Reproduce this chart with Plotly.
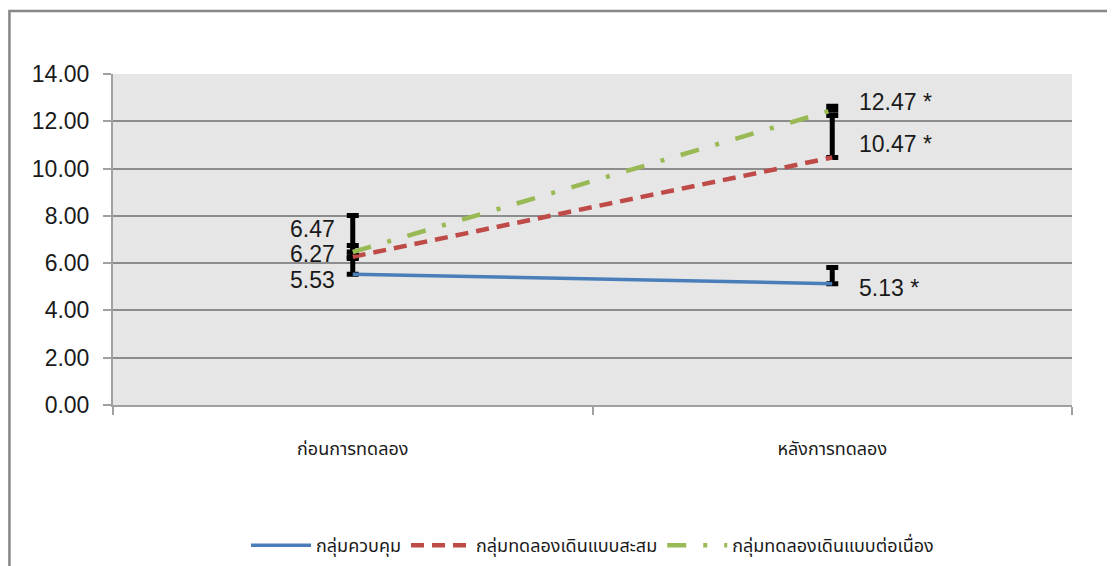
import plotly.graph_objects as go

categories = ["ก่อนการทดลอง", "หลังการทดลอง"]
series_names = ["กลุ่มควบคุม", "กลุ่มทดลองเดินแบบสะสม", "กลุ่มทดลองเดินแบบต่อเนื่อง"]
control = [5.53, 5.13]
accumulated = [6.27, 10.47]
continuous = [6.47, 12.47]
control_err = [0.67, 0.69]
accumulated_err = [0.48, 1.77]
continuous_err = [1.55, 0.17]
control_labels = ["5.53", "5.13 *"]
accumulated_labels = ["6.27", "10.47 *"]
continuous_labels = ["6.47", "12.47 *"]
y_ticks = [0, 2, 4, 6, 8, 10, 12, 14]

series = [
    (series_names[0], control, control_err, control_labels, "#4a7ebb", "solid", 3.5, [-6, -4]),
    (series_names[1], accumulated, accumulated_err, accumulated_labels, "#be4b48", "13px,8px", 4.5, [3, 13]),
    (series_names[2], continuous, continuous_err, continuous_labels, "#98b954", "19px,17px,4px,17px", 4.5, [23, 8]),
]

THAI = "Tahoma, Noto Sans Thai, Loma, DejaVu Sans, sans-serif"
fig = go.Figure()
annotations = []
for name, vals, err, labels, color, dash, width, yshifts in series:
    fig.add_trace(go.Scatter(
        x=categories, y=vals, name=name, mode="lines",
        line=dict(color=color, width=width, dash=dash),
        error_y=dict(type="data", array=err, arrayminus=[0] * len(err), symmetric=False,
                     color="black", thickness=5, width=6),
    ))
    for i, (c, v, t) in enumerate(zip(categories, vals, labels)):
        annotations.append(dict(
            x=c, y=v, xref="x", yref="y", text=t, showarrow=False,
            xanchor="right" if i == 0 else "left",
            xshift=-16 if i == 0 else 25, yshift=yshifts[i],
            font=dict(family="Liberation Sans, Arial, sans-serif", size=23, color="#1a1a1a"),
        ))

fig.update_layout(
    width=1115, height=566,
    margin=dict(l=105, r=51, t=66, b=168),
    paper_bgcolor="white", plot_bgcolor="#e6e6e6",
    font=dict(family="Liberation Sans, Arial, sans-serif", color="#1a1a1a"),
    showlegend=True,
    legend=dict(orientation="h", x=0.5, xanchor="center", y=-0.42, yanchor="middle",
                font=dict(size=18, family=THAI),
                itemwidth=60, bgcolor="rgba(0,0,0,0)"),
    annotations=annotations,
    shapes=[dict(type="rect", xref="paper", yref="paper", x0=-0.108, x1=1.1, y0=-0.7, y1=1.19,
                 line=dict(color="#878787", width=2.5), fillcolor="rgba(0,0,0,0)", layer="below")],
)
fig.update_xaxes(
    range=[-0.5, 1.5], automargin=False,
    showgrid=False, showline=True, linecolor="#a0a0a0", linewidth=2,
    ticks="outside", tickson="boundaries", ticklen=8, tickcolor="#a0a0a0", tickwidth=2,
    tickfont=dict(size=18, family=THAI, color="#1a1a1a"),
    ticklabelstandoff=26,
)
fig.update_yaxes(
    range=[0, 14], tickvals=y_ticks, ticktext=[f"{v:.2f}" for v in y_ticks], automargin=False,
    showgrid=True, gridcolor="#8c8c8c", gridwidth=1.5,
    showline=True, linecolor="#a0a0a0", linewidth=2,
    ticks="outside", ticklen=8, tickcolor="#a0a0a0", tickwidth=2,
    tickfont=dict(size=23, color="#1a1a1a"), zeroline=False,
    ticklabelstandoff=9,
)

fig.write_html("out.html")
